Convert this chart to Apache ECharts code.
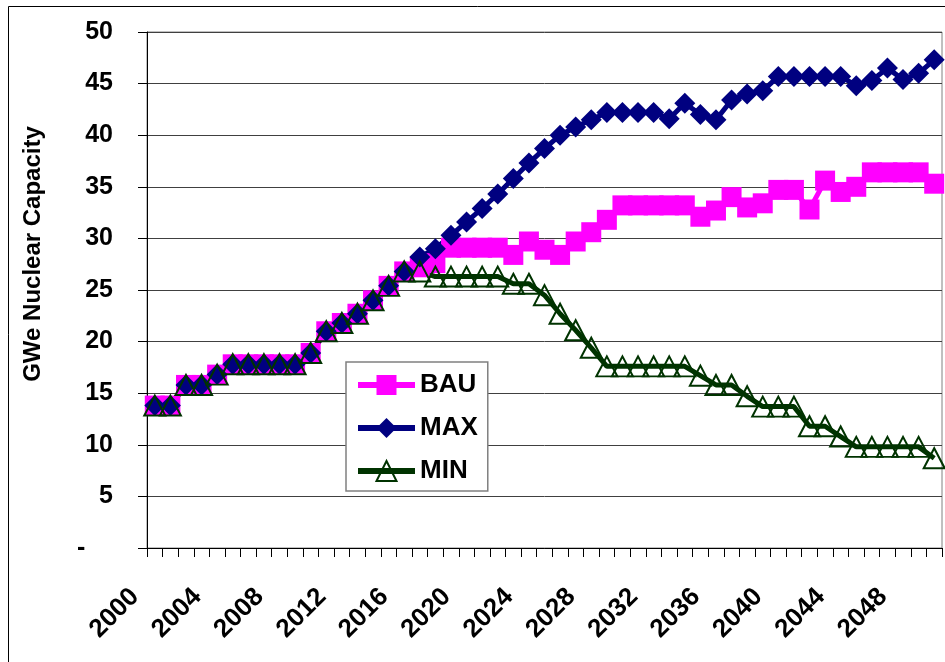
<!DOCTYPE html>
<html>
<head>
<meta charset="utf-8">
<script src="https://cdn.jsdelivr.net/npm/echarts@6/dist/echarts.min.js"></script>
<style>
html,body{margin:0;padding:0;background:#fff;}
#chart{width:945px;height:662px;}
</style>
</head>
<body>
<div id="chart"></div>
<script>
const years = ['2000','2001','2002','2003','2004','2005','2006','2007','2008','2009',
  '2010','2011','2012','2013','2014','2015','2016','2017','2018','2019',
  '2020','2021','2022','2023','2024','2025','2026','2027','2028','2029',
  '2030','2031','2032','2033','2034','2035','2036','2037','2038','2039',
  '2040','2041','2042','2043','2044','2045','2046','2047','2048','2049','2050'];

const bau = [13.8,13.8,15.8,15.8,16.8,17.8,17.8,17.8,17.8,17.8,
  18.9,21.0,21.8,22.7,24.0,25.4,26.8,27.2,27.6,29.1,
  29.1,29.1,29.1,28.4,29.7,28.9,28.4,29.7,30.6,31.8,
  33.2,33.2,33.2,33.2,33.2,32.1,32.7,34.0,33.0,33.4,
  34.7,34.7,32.8,35.6,34.5,35.0,36.4,36.4,36.4,36.4,35.3];

const max = [13.8,13.8,15.8,15.8,16.8,17.8,17.8,17.8,17.8,17.8,
  18.9,21.0,21.8,22.7,24.0,25.4,26.8,28.2,29.0,30.3,
  31.6,32.9,34.3,35.8,37.3,38.7,40.0,40.8,41.5,42.2,
  42.2,42.2,42.2,41.6,43.1,42.0,41.5,43.4,44.0,44.3,
  45.7,45.7,45.7,45.7,45.7,44.8,45.3,46.5,45.4,46.0,47.3];

const min = [13.8,13.8,15.8,15.8,16.8,17.8,17.8,17.8,17.8,17.8,
  18.9,21.0,21.8,22.7,24.0,25.4,26.8,26.8,26.3,26.3,
  26.3,26.3,26.3,25.6,25.6,24.5,22.7,21.1,19.4,17.6,
  17.6,17.6,17.6,17.6,17.6,16.7,15.8,15.8,14.7,13.7,
  13.7,13.7,11.8,11.8,10.8,9.8,9.8,9.8,9.8,9.8,8.7];

const seriesNames = ['BAU','MAX','MIN'];
const yTickValues = [0,5,10,15,20,25,30,35,40,45,50];

const FONT = 'Liberation Sans, Arial, sans-serif';
const chart = echarts.init(document.getElementById('chart'), null, {renderer:'canvas'});

chart.setOption({
  animation: false,
  backgroundColor: '#fff',
  graphic: [{
    type: 'rect', z: -1,
    shape: {x: 8.5, y: 6.5, width: 960, height: 700},
    style: {fill: 'none', stroke: '#000', lineWidth: 1}
  }],
  grid: {
    left: 147, top: 32, right: 3, bottom: 114,
    show: true, borderColor: '#808080', borderWidth: 1, backgroundColor: '#fff'
  },
  legend: {
    orient: 'vertical',
    left: 346, top: 362,
    padding: [10, 10, 7, 9],
    itemGap: 17,
    itemWidth: 57,
    itemHeight: 25,
    lineStyle: {width: 6},
    backgroundColor: '#fff',
    borderColor: '#808080',
    borderWidth: 1.5,
    borderRadius: 0,
    textStyle: {fontFamily: FONT, fontWeight: 'bold', fontSize: 26, color: '#000'},
    data: seriesNames
  },
  xAxis: {
    type: 'category',
    data: years,
    boundaryGap: true,
    axisLine: {show: true, lineStyle: {color: '#000', width: 1}},
    axisTick: {show: true, interval: 0, length: 9, lineStyle: {color: '#000'}},
    axisLabel: {
      interval: 3, rotate: 45, margin: 25, padding: [0, 28, 0, 0],
      fontFamily: FONT, fontWeight: 'bold', fontSize: 26, color: '#000'
    },
    splitLine: {show: false}
  },
  yAxis: {
    type: 'value',
    min: 0, max: 50, interval: 5,
    name: 'GWe Nuclear Capacity',
    nameLocation: 'middle',
    nameGap: 102,
    nameTextStyle: {fontFamily: FONT, fontWeight: 'bold', fontSize: 24, color: '#000', padding: [0, 0, 0, 72]},
    axisLine: {show: true, lineStyle: {color: '#000', width: 1}},
    axisTick: {show: true, length: 9, lineStyle: {color: '#000'}},
    axisLabel: {
      margin: 34,
      fontFamily: FONT, fontWeight: 'bold', fontSize: 25, color: '#000',
      formatter: function (v) { return v === 0 ? '-    ' : String(v); }
    },
    splitLine: {show: true, lineStyle: {color: '#404040', width: 1}}
  },
  series: [
    {
      name: seriesNames[0], type: 'line', data: bau,
      symbol: 'rect', symbolSize: 20, showAllSymbol: true,
      itemStyle: {color: '#FF00FF'},
      lineStyle: {color: '#FF00FF', width: 5},
      emphasis: {disabled: true}
    },
    {
      name: seriesNames[1], type: 'line', data: max,
      symbol: 'diamond', symbolSize: 21, showAllSymbol: true,
      itemStyle: {color: '#000080'},
      lineStyle: {color: '#000080', width: 5},
      emphasis: {disabled: true}
    },
    {
      name: seriesNames[2], type: 'line', data: min,
      symbol: 'triangle', symbolSize: [21, 20], showAllSymbol: true,
      itemStyle: {color: 'rgba(255,255,255,0)', borderColor: '#003300', borderWidth: 2},
      lineStyle: {color: '#003300', width: 5},
      emphasis: {disabled: true}
    }
  ]
});
</script>
</body>
</html>
